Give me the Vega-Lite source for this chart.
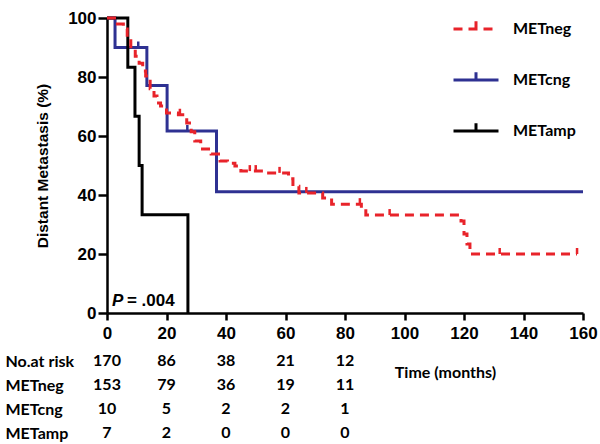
{
  "$schema": "https://vega.github.io/schema/vega-lite/v6.json",
  "background": "white",
  "padding": {"left": 5, "top": 5, "right": 0, "bottom": 0},
  "config": {"view": {"stroke": null}},
  "spacing": 36,
  "bounds": "flush",
  "datasets": {
    "km": [
      {"group": "METneg", "month": 0, "pct": 100},
      {"group": "METneg", "month": 3.5, "pct": 98},
      {"group": "METneg", "month": 5.5, "pct": 96.3},
      {"group": "METneg", "month": 6.8, "pct": 92.9},
      {"group": "METneg", "month": 8, "pct": 89.5},
      {"group": "METneg", "month": 9.5, "pct": 87},
      {"group": "METneg", "month": 10.8, "pct": 84.7},
      {"group": "METneg", "month": 12, "pct": 82},
      {"group": "METneg", "month": 13, "pct": 80.3},
      {"group": "METneg", "month": 14.5, "pct": 76},
      {"group": "METneg", "month": 15.8, "pct": 73.6},
      {"group": "METneg", "month": 16.8, "pct": 71.2},
      {"group": "METneg", "month": 18, "pct": 70.2},
      {"group": "METneg", "month": 20, "pct": 67.8},
      {"group": "METneg", "month": 24, "pct": 67.2},
      {"group": "METneg", "month": 26.8, "pct": 64.4},
      {"group": "METneg", "month": 28.3, "pct": 61.4},
      {"group": "METneg", "month": 29.5, "pct": 58.3},
      {"group": "METneg", "month": 31.5, "pct": 55.6},
      {"group": "METneg", "month": 35, "pct": 53.9},
      {"group": "METneg", "month": 38, "pct": 51.5},
      {"group": "METneg", "month": 40.5, "pct": 50.8},
      {"group": "METneg", "month": 43, "pct": 49.8},
      {"group": "METneg", "month": 45, "pct": 48.1},
      {"group": "METneg", "month": 53, "pct": 47.5},
      {"group": "METneg", "month": 61, "pct": 45.5},
      {"group": "METneg", "month": 62.5, "pct": 43},
      {"group": "METneg", "month": 64.5, "pct": 40.7},
      {"group": "METneg", "month": 72.5, "pct": 39},
      {"group": "METneg", "month": 75.5, "pct": 36.9},
      {"group": "METneg", "month": 85.5, "pct": 35.3},
      {"group": "METneg", "month": 87, "pct": 33.2},
      {"group": "METneg", "month": 119, "pct": 31.2},
      {"group": "METneg", "month": 120, "pct": 26.8},
      {"group": "METneg", "month": 121, "pct": 23.4},
      {"group": "METneg", "month": 122, "pct": 20},
      {"group": "METneg", "month": 158, "pct": 20},
      {"group": "METcng", "month": 0, "pct": 100},
      {"group": "METcng", "month": 2.7, "pct": 90},
      {"group": "METcng", "month": 13.4, "pct": 77.1},
      {"group": "METcng", "month": 20.2, "pct": 61.7},
      {"group": "METcng", "month": 36.8, "pct": 41.1},
      {"group": "METcng", "month": 160, "pct": 41.1},
      {"group": "METamp", "month": 0, "pct": 100},
      {"group": "METamp", "month": 7, "pct": 83.3},
      {"group": "METamp", "month": 9.4, "pct": 66.7},
      {"group": "METamp", "month": 10.8, "pct": 50},
      {"group": "METamp", "month": 11.8, "pct": 33.3},
      {"group": "METamp", "month": 27.2, "pct": 0}
    ],
    "censor": [
      {"group": "METneg", "month": 24.5, "pct": 67.2},
      {"group": "METneg", "month": 48, "pct": 48.1},
      {"group": "METneg", "month": 50, "pct": 48.1},
      {"group": "METneg", "month": 58, "pct": 47.5},
      {"group": "METneg", "month": 67, "pct": 40.7},
      {"group": "METneg", "month": 85, "pct": 36.9},
      {"group": "METneg", "month": 95, "pct": 33.2},
      {"group": "METneg", "month": 132, "pct": 20},
      {"group": "METneg", "month": 158, "pct": 20},
      {"group": "METcng", "month": 10.5, "pct": 90},
      {"group": "METcng", "month": 27, "pct": 61.7}
    ],
    "note": [
      {"p": "P", "rest": "= .004"}
    ],
    "risk": [
      {"row": "No.at risk", "month": 0, "n": 170},
      {"row": "No.at risk", "month": 20, "n": 86},
      {"row": "No.at risk", "month": 40, "n": 38},
      {"row": "No.at risk", "month": 60, "n": 21},
      {"row": "No.at risk", "month": 80, "n": 12},
      {"row": "METneg", "month": 0, "n": 153},
      {"row": "METneg", "month": 20, "n": 79},
      {"row": "METneg", "month": 40, "n": 36},
      {"row": "METneg", "month": 60, "n": 19},
      {"row": "METneg", "month": 80, "n": 11},
      {"row": "METcng", "month": 0, "n": 10},
      {"row": "METcng", "month": 20, "n": 5},
      {"row": "METcng", "month": 40, "n": 2},
      {"row": "METcng", "month": 60, "n": 2},
      {"row": "METcng", "month": 80, "n": 1},
      {"row": "METamp", "month": 0, "n": 7},
      {"row": "METamp", "month": 20, "n": 2},
      {"row": "METamp", "month": 40, "n": 0},
      {"row": "METamp", "month": 60, "n": 0},
      {"row": "METamp", "month": 80, "n": 0}
    ]
  },
  "vconcat": [
    {
      "width": 476,
      "height": 295,
      "layer": [
        {
          "data": {"name": "km"},
          "transform": [{"filter": "datum.group !== 'METneg'"}],
          "mark": {"type": "line", "interpolate": "step-after", "strokeWidth": 3, "strokeCap": "butt"},
          "encoding": {
            "x": {
              "field": "month", "type": "quantitative",
              "scale": {"domain": [0, 160], "nice": false},
              "axis": {
                "title": "Time (months)", "values": [0, 20, 40, 60, 80, 100, 120, 140, 160],
                "grid": false, "domainColor": "black", "domainWidth": 2.5,
                "tickColor": "black", "tickWidth": 2.5, "tickSize": 7,
                "labelFont": "Liberation Sans", "labelFontWeight": "bold", "labelFontSize": 17,
                "labelColor": "black", "labelPadding": 5, "labelFlush": false, "labelOverlap": false,
                "titleFont": "Lato", "titleFontSize": 16, "titleFontWeight": "bold", "titleColor": "black",
                "titleX": 338, "titleY": 59, "titleAlign": "center", "titleBaseline": "middle"
              }
            },
            "y": {
              "field": "pct", "type": "quantitative",
              "scale": {"domain": [0, 100], "nice": false},
              "axis": {
                "title": "Distant Metastasis (%)", "values": [0, 20, 40, 60, 80, 100],
                "grid": false, "domainColor": "black", "domainWidth": 2.5,
                "tickColor": "black", "tickWidth": 2.5, "tickSize": 9,
                "labelFont": "Liberation Sans", "labelFontWeight": "bold", "labelFontSize": 17,
                "labelColor": "black", "labelPadding": 2, "labelFlush": false,
                "titleFont": "Liberation Sans", "titleFontSize": 15.5, "titleFontWeight": "bold",
                "titleColor": "black", "titlePadding": 17
              }
            },
            "color": {
              "field": "group", "type": "nominal",
              "scale": {"domain": ["METneg", "METcng", "METamp"], "range": ["#e8232a", "#2e3192", "#000000"]},
              "legend": {
                "title": null, "orient": "none", "legendX": 345, "legendY": -13,
                "symbolType": "M-1,0L1,0M0,0L0,-0.35", "symbolSize": 2025, "symbolStrokeWidth": 3,
                "labelFont": "Lato", "labelFontSize": 16, "labelFontWeight": "bold", "labelColor": "black",
                "labelOffset": 13, "rowPadding": 19
              }
            },
            "strokeDash": {
              "field": "group", "type": "nominal",
              "scale": {"domain": ["METneg", "METcng", "METamp"], "range": [[9, 6], [1, 0], [1, 0]]},
              "legend": {
                "title": null, "orient": "none", "legendX": 345, "legendY": -13,
                "symbolType": "M-1,0L1,0M0,0L0,-0.35", "symbolSize": 2025, "symbolStrokeWidth": 3,
                "labelFont": "Lato", "labelFontSize": 16, "labelFontWeight": "bold", "labelColor": "black",
                "labelOffset": 13, "rowPadding": 19
              }
            }
          }
        },
        {
          "data": {"name": "km"},
          "transform": [{"filter": "datum.group === 'METneg'"}],
          "mark": {"type": "line", "interpolate": "step-after", "strokeWidth": 3, "strokeCap": "butt"},
          "encoding": {
            "x": {"field": "month", "type": "quantitative"},
            "y": {"field": "pct", "type": "quantitative"},
            "color": {"field": "group", "type": "nominal"},
            "strokeDash": {"field": "group", "type": "nominal"}
          }
        },
        {
          "data": {"name": "censor"},
          "mark": {"type": "point", "shape": "M0,0L0,-1", "size": 144, "strokeWidth": 2.5, "filled": false, "opacity": 1},
          "encoding": {
            "x": {"field": "month", "type": "quantitative"},
            "y": {"field": "pct", "type": "quantitative"},
            "color": {"field": "group", "type": "nominal"}
          }
        },
        {
          "data": {"name": "note"},
          "mark": {"type": "text", "font": "Liberation Sans", "fontSize": 17, "fontWeight": "bold", "fontStyle": "italic", "align": "left", "baseline": "middle", "fill": "black"},
          "encoding": {
            "x": {"datum": 1.7},
            "y": {"datum": 4},
            "text": {"field": "p", "type": "nominal"}
          }
        },
        {
          "data": {"name": "note"},
          "mark": {"type": "text", "font": "Liberation Sans", "fontSize": 17, "fontWeight": "bold", "align": "left", "baseline": "middle", "fill": "black"},
          "encoding": {
            "x": {"datum": 6.7},
            "y": {"datum": 4},
            "text": {"field": "rest", "type": "nominal"}
          }
        }
      ]
    },
    {
      "width": 476,
      "height": 96,
      "data": {"name": "risk"},
      "mark": {"type": "text", "font": "Lato", "fontSize": 16, "fontWeight": "bold", "align": "center", "baseline": "middle", "color": "black"},
      "encoding": {
        "x": {"field": "month", "type": "quantitative", "scale": {"domain": [0, 160], "nice": false}, "axis": null},
        "y": {
          "field": "row", "type": "nominal", "sort": ["No.at risk", "METneg", "METcng", "METamp"],
          "axis": {
            "title": null, "domain": false, "ticks": false, "tickSize": 0,
            "labelAlign": "left", "labelPadding": 102,
            "labelFont": "Lato", "labelFontSize": 16, "labelFontWeight": "bold", "labelColor": "black"
          }
        },
        "text": {"field": "n", "type": "quantitative"}
      }
    }
  ]
}
